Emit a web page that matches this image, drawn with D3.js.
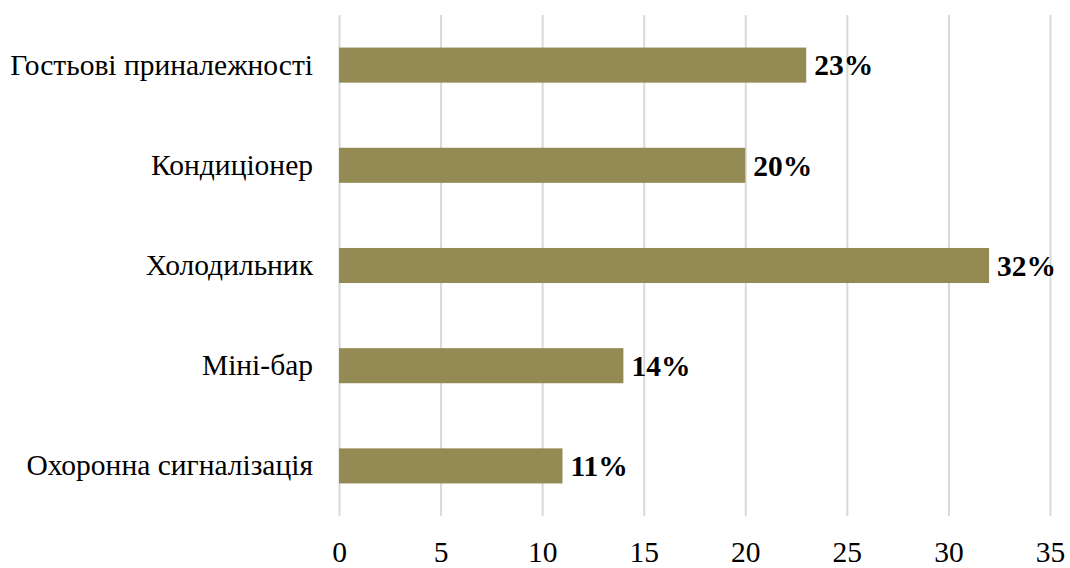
<!DOCTYPE html>
<html><head><meta charset="utf-8">
<script src="https://cdn.jsdelivr.net/npm/d3@7"></script>
<style>body{margin:0;background:#fff}svg{display:block}svg text{font-family:'Liberation Serif','Times New Roman',serif}</style>
</head><body>
<svg id="c" width="1070" height="568"></svg>
<script>
const categories = ["Гостьові приналежності","Кондиціонер","Холодильник","Міні-бар ","Охоронна сигналізація"];
const values = [23,20,32,14,11];
const ticks = [0,5,10,15,20,25,30,35];

const svg = d3.select("#c");
const font = "'Liberation Serif','Times New Roman',serif";
const x = d3.scaleLinear().domain([0,35]).range([339,1050]);
const y = d3.scaleBand().domain(categories).range([15,516]).paddingInner(0.65).paddingOuter(0.325);

svg.append("g").selectAll("line").data(ticks).join("line")
  .attr("x1",d=>x(d)+0.5).attr("x2",d=>x(d)+0.5).attr("y1",15).attr("y2",516)
  .attr("stroke","#d9d9d9").attr("stroke-width",2);

svg.append("g").selectAll("rect").data(values).join("rect")
  .attr("x",x(0)).attr("y",(d,i)=>y(categories[i]))
  .attr("width",d=>x(d)-x(0)).attr("height",y.bandwidth())
  .attr("fill","#948a54");

svg.append("g").selectAll("text").data(values).join("text")
  .attr("x",d=>x(d)+8).attr("y",(d,i)=>y(categories[i])+y.bandwidth()/2)
  .attr("dy","0.35em").attr("font-family",font).attr("font-weight","bold")
  .attr("font-size",29.5).attr("fill","#000").text(d=>d+"%");

const yAxis = d3.axisLeft(y).tickSize(0).tickPadding(0);
const ga = svg.append("g").attr("transform","translate(313,0)").call(yAxis);
ga.attr("font-family",font);
ga.select(".domain").remove();
ga.selectAll("text").attr("font-family",font).attr("font-size",29.5).attr("fill","#000");

const xAxis = d3.axisBottom(x).tickValues(ticks).tickSize(0).tickPadding(0).tickFormat(d3.format("d"));
const gx = svg.append("g").attr("transform","translate(0,541)").call(xAxis);
gx.attr("font-family",font);
gx.select(".domain").remove();
gx.selectAll("text").attr("font-family",font).attr("font-size",29.5).attr("fill","#000");
</script>
</body></html>
